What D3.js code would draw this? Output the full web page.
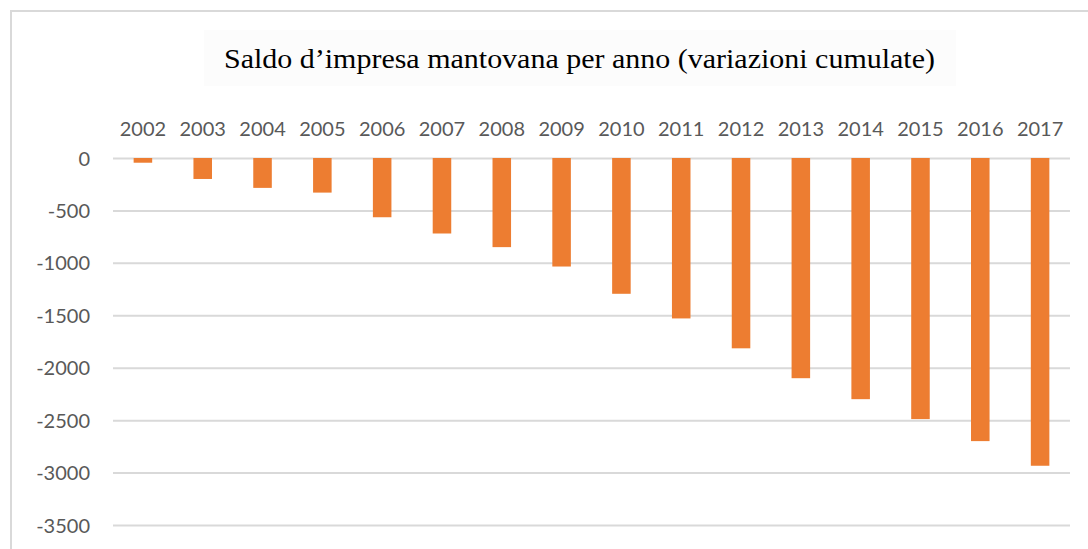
<!DOCTYPE html>
<html>
<head>
<meta charset="utf-8">
<script src="https://cdn.jsdelivr.net/npm/d3@7"></script>
<style>
  body { margin: 0; background: #fff; }
  .axis text { font-family: Lato, "Open Sans", sans-serif; fill: #595959; }
</style>
</head>
<body>
<svg id="chart" width="1088" height="549"></svg>
<script>
// saldo d'impresa, cumulative change per year

const years = ["2002", "2003", "2004", "2005", "2006", "2007", "2008", "2009",
               "2010", "2011", "2012", "2013", "2014", "2015", "2016", "2017"];
const saldo = [-45, -200, -285, -330, -565, -720, -850, -1035,
               -1295, -1530, -1815, -2100, -2300, -2490, -2700, -2935];
const yTicks = [0, -500, -1000, -1500, -2000, -2500, -3000, -3500];
const title = "Saldo d’impresa mantovana per anno (variazioni cumulate)";

const w = 1088;
const h = 549;
const margin = {top: 158, left: 113, bottom: 24, right: 18};
const barColor = "#ED7D31";
const gridColor = "#d9d9d9";

const svg = d3.select("#chart");

// chart frame (only top + left visible in the picture)
svg.append("line")
    .attr("x1", 10).attr("x2", w).attr("y1", 11).attr("y2", 11)
    .attr("stroke", gridColor).attr("stroke-width", 2);
svg.append("line")
    .attr("x1", 11).attr("x2", 11).attr("y1", 10).attr("y2", h)
    .attr("stroke", gridColor).attr("stroke-width", 2);

// very faint title box
svg.append("rect")
    .attr("x", 204).attr("y", 30).attr("width", 752).attr("height", 56)
    .attr("fill", "#fcfcfc");

svg.append("text")
    .attr("x", 224)
    .attr("y", 68)
    .attr("textLength", 711)
    .attr("lengthAdjust", "spacingAndGlyphs")
    .style("font-family", "'Liberation Serif', 'DejaVu Serif', serif")
    .style("font-size", "27px")
    .style("fill", "#000")
    .text(title);

// SCALES
const yScale = d3.scaleLinear()
    .domain([0, -3500])
    .range([margin.top, h - margin.bottom]);

const xScale = d3.scaleBand()
    .domain(years)
    .range([margin.left, w - margin.right])
    .paddingInner(0.69)
    .paddingOuter(0.345);

// AXES
const yAxis = d3.axisLeft(yScale)
    .tickValues(yTicks)
    .tickSize(-(w - margin.left - margin.right))
    .tickPadding(23)
    .tickFormat(d => String(d)); // plain hyphen, like excel

const gy = svg.append("g")
    .attr("class", "y axis")
    .attr("transform", `translate(${margin.left},0)`)
    .call(yAxis);
gy.select(".domain").remove();
gy.selectAll(".tick line")
    .attr("stroke", gridColor)
    .attr("stroke-width", 2);
gy.selectAll(".tick text")
    .style("font-size", "20px")
    .attr("dy", "0.35em");

const xAxis = d3.axisTop(xScale)
    .tickSize(0)
    .tickPadding(0);

const gx = svg.append("g")
    .attr("class", "x axis")
    .attr("transform", `translate(0,136)`)
    .call(xAxis);
gx.select(".domain").remove();
gx.selectAll(".tick text")
    .style("font-size", "20px")
    .attr("dy", 0);

// COLUMNS
svg.selectAll(".col")
    .data(years.map((y, i) => ({year: y, value: saldo[i]})))
    .join("rect")
    .attr("class", "col")
    .attr("fill", barColor)
    .attr("x", d => xScale(d.year))
    .attr("width", xScale.bandwidth())
    .attr("y", yScale(0))
    .attr("height", d => yScale(d.value) - yScale(0));
</script>
</body>
</html>
